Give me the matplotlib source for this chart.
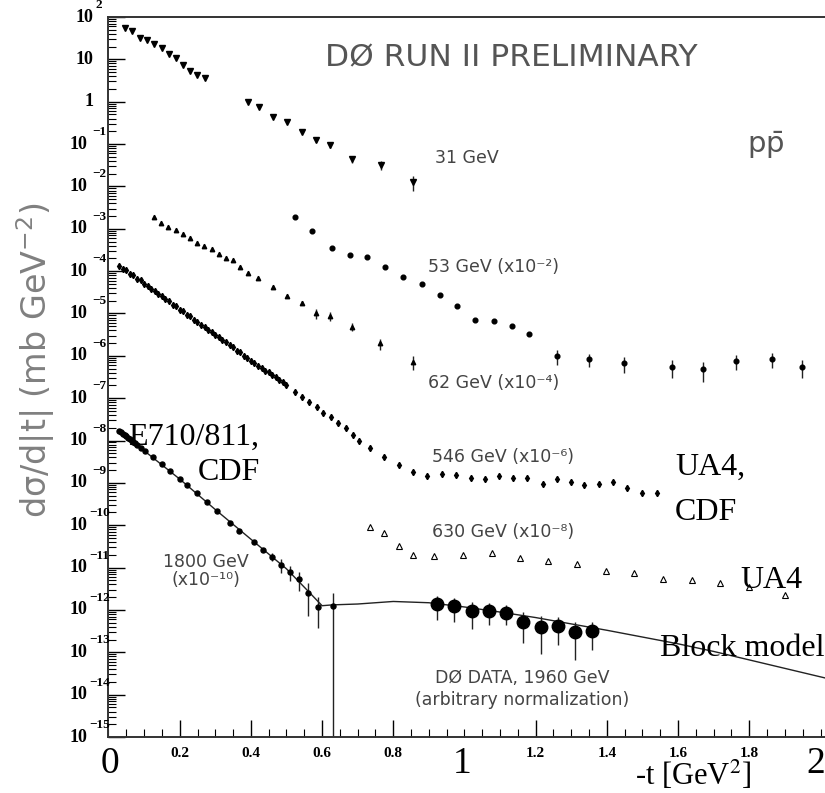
import numpy as np
import matplotlib
matplotlib.use('Agg')
import matplotlib.pyplot as plt
import matplotlib.transforms as mtransforms
from matplotlib.ticker import MultipleLocator, LogLocator, NullFormatter

# values as log10(dsigma/dt), relative errors where bars are visible
t31 = [0.046, 0.067, 0.089, 0.109, 0.129, 0.149, 0.170, 0.190, 0.210, 0.229, 0.249, 0.271,
       0.391, 0.423, 0.462, 0.502, 0.543, 0.583, 0.622, 0.685, 0.765, 0.854]
lg31 = [1.733, 1.669, 1.497, 1.449, 1.370, 1.260, 1.119, 1.024, 0.867, 0.725, 0.630, 0.567,
        0.000, -0.125, -0.354, -0.487, -0.708, -0.904, -1.022, -1.353, -1.495, -1.889]
err31 = [0] * 12 + [0.03, 0.04, 0.05, 0.06, 0.08, 0.12, 0.15, 0.2, 0.25, 0.4]

t53 = [0.524, 0.572, 0.629, 0.678, 0.727, 0.777, 0.828, 0.881, 0.931, 0.980, 1.029, 1.082,
       1.133, 1.180, 1.259, 1.351, 1.449, 1.582, 1.671, 1.763, 1.865, 1.947]
lg53 = [-2.722, -3.053, -3.462, -3.620, -3.674, -3.896, -4.132, -4.305, -4.557, -4.824, -5.155,
        -5.167, -5.296, -5.485, -6.005, -6.083, -6.177, -6.257, -6.319, -6.116, -6.083, -6.257]
err53 = [0] * 9 + [0.05, 0.06, 0.06, 0.08, 0.1, 0.38, 0.35, 0.4, 0.45, 0.5, 0.4, 0.38, 0.45]

t62 = [0.128, 0.147, 0.168, 0.189, 0.208, 0.229, 0.249, 0.269, 0.290, 0.310, 0.330, 0.351,
       0.369, 0.393, 0.421, 0.461, 0.502, 0.543, 0.583, 0.622, 0.685, 0.763, 0.856]
lg62 = [-2.715, -2.857, -2.951, -3.029, -3.124, -3.226, -3.329, -3.407, -3.485, -3.603, -3.698,
        -3.738, -3.896, -4.052, -4.156, -4.368, -4.581, -4.746, -4.997, -5.060, -5.313, -5.705, -6.139]
err62 = [0] * 16 + [0.06, 0.12, 0.25, 0.25, 0.2, 0.3, 0.36]

t546 = [0.03, 0.04, 0.05, 0.06, 0.07, 0.08, 0.09, 0.10, 0.11, 0.12, 0.13, 0.14, 0.15, 0.16,
        0.17, 0.18, 0.19, 0.20, 0.21, 0.22, 0.23, 0.24, 0.25, 0.26, 0.27, 0.28, 0.29, 0.30,
        0.31, 0.32, 0.33, 0.34, 0.35, 0.36, 0.37, 0.38, 0.39, 0.40, 0.41, 0.42, 0.43, 0.44,
        0.45, 0.46, 0.47, 0.48, 0.49, 0.50,
        0.524, 0.543, 0.564, 0.585, 0.603, 0.625, 0.646, 0.666, 0.686, 0.704, 0.735, 0.775,
        0.816, 0.856, 0.896, 0.938, 0.976, 1.017, 1.058, 1.098, 1.137, 1.176, 1.220, 1.259,
        1.299, 1.337, 1.378, 1.416, 1.457, 1.498, 1.540]
lg546 = [-3.87, -3.94, -3.98, -4.06, -4.10, -4.18, -4.22, -4.30, -4.35, -4.42, -4.47, -4.55,
         -4.59, -4.67, -4.71, -4.79, -4.83, -4.91, -4.95, -5.03, -5.07, -5.15, -5.19, -5.27,
         -5.31, -5.39, -5.43, -5.51, -5.55, -5.63, -5.67, -5.75, -5.79, -5.88, -5.92, -6.00,
         -6.04, -6.12, -6.16, -6.24, -6.28, -6.36, -6.39, -6.46, -6.50, -6.58, -6.62, -6.70,
         -6.848, -6.966, -7.084, -7.202, -7.344, -7.452, -7.594, -7.712, -7.870, -8.005,
         -8.184, -8.397, -8.578, -8.737, -8.838, -8.791, -8.815, -8.893, -8.916, -8.838,
         -8.893, -8.893, -9.027, -8.916, -8.973, -9.050, -9.027, -8.973, -9.129, -9.233, -9.247]

t630 = [0.735, 0.774, 0.816, 0.854, 0.915, 0.997, 1.076, 1.156, 1.235, 1.315, 1.397, 1.477,
        1.558, 1.638, 1.718, 1.800, 1.900]
lg630 = [-10.035, -10.177, -10.491, -10.704, -10.727, -10.704, -10.664, -10.782, -10.838,
         -10.916, -11.074, -11.136, -11.277, -11.294, -11.372, -11.45, -11.648]

t1800 = [0.030, 0.035, 0.040, 0.045, 0.050, 0.055, 0.060, 0.065, 0.070, 0.075, 0.080, 0.090,
         0.103, 0.126, 0.149, 0.173, 0.201, 0.221, 0.248, 0.276, 0.304, 0.341, 0.367, 0.410,
         0.435, 0.458, 0.484, 0.510, 0.534, 0.561, 0.589, 0.631]
lg1800 = [-7.77, -7.80, -7.84, -7.87, -7.90, -7.94, -7.97, -8.00, -8.04, -8.07, -8.11, -8.17,
          -8.25, -8.40, -8.56, -8.73, -8.92, -9.06, -9.25, -9.45, -9.66, -9.94, -10.13, -10.40,
          -10.58, -10.74, -10.93, -11.10, -11.28, -11.60, -11.92, -11.90]
err1800 = [0] * 25 + [0.2, 0.35, 0.39, 0.47, 0.71, 0.69, 0.9999]

t_d0 = [0.922, 0.971, 1.020, 1.069, 1.117, 1.165, 1.214, 1.262, 1.309, 1.357]
lg_d0 = [-11.861, -11.908, -12.019, -12.019, -12.066, -12.278, -12.396, -12.380, -12.529, -12.498]
err_d0 = [0.58, 0.57, 0.62, 0.54, 0.49, 0.69, 0.77, 0.65, 0.78, 0.65]

t_block = [0.028, 0.10, 0.20, 0.30, 0.40, 0.50, 0.56, 0.60, 0.63, 0.70, 0.80, 0.90, 1.0, 1.1,
           1.2, 1.3, 1.4, 1.5, 1.6, 1.7, 1.8, 1.9, 2.0, 2.05]
lg_block = [-7.75, -8.24, -8.91, -9.63, -10.33, -11.03, -11.55, -11.90, -11.88, -11.86, -11.80,
            -11.83, -11.93, -12.05, -12.18, -12.33, -12.48, -12.64, -12.80, -12.98, -13.18,
            -13.38, -13.58, -13.68]

xticks = [0.2, 0.4, 0.6, 0.8, 1.2, 1.4, 1.6, 1.8]
decades = list(range(-15, 3))

fig = plt.figure(figsize=(8.25, 7.93), dpi=100)
ax = fig.add_axes([108.5 / 825, 56 / 793, 716.5 / 825, 720 / 793])


def draw(t, lg, err, **kw):
    y = 10.0 ** np.array(lg)
    e = y * np.array(err)
    ax.errorbar(t, y, yerr=[e, e], color='k', ecolor='#222222', elinewidth=1.0,
                capsize=0, linestyle='none', **kw)


draw(t31, lg31, err31, marker='v', ms=4.0)
draw(t53, lg53, err53, marker='o', ms=3.4)
draw(t62, lg62, err62, marker='^', ms=3.2)
draw(t546, lg546, [0] * len(t546), marker='d', ms=3.2)
draw(t630, lg630, [0] * len(t630), marker='^', ms=4.0, mfc='white', mew=0.8)
ax.plot(t_block, 10.0 ** np.array(lg_block), color='#222222', lw=1.0)
draw(t1800, lg1800, err1800, marker='o', ms=3.6)
draw(t_d0, lg_d0, err_d0, marker='o', ms=9)

ax.set_yscale('log')
ax.set_ylim(1e-15, 1e2)
ax.set_xlim(0, 716.5 / 356)
ax.spines['right'].set_visible(False)
for s in ['left', 'top', 'bottom']:
    ax.spines[s].set_linewidth(1.4)
    ax.spines[s].set_color('#333333')

ax.set_xticks(xticks)
ax.set_xticklabels(['%.1f' % v for v in xticks], family='Liberation Serif',
                   fontweight='bold', fontsize=11)
ax.xaxis.set_minor_locator(MultipleLocator(0.05))
ax.yaxis.set_major_locator(LogLocator(base=10, numticks=40))
ax.yaxis.set_minor_locator(LogLocator(base=10, subs=np.arange(2, 10), numticks=40))
ax.yaxis.set_minor_formatter(NullFormatter())
ax.tick_params(which='both', direction='in', top=False, right=False, labelleft=False)
ax.tick_params(which='major', length=12, width=1.0, pad=7)
ax.tick_params(which='minor', length=6, width=0.8)

# ROOT-style "10" + exponent labels on the y axis
trans = mtransforms.blended_transform_factory(ax.transAxes, ax.transData)
up = mtransforms.ScaledTranslation(0, 12 / 100, fig.dpi_scale_trans)
for n in decades:
    y = 10.0 ** n
    base = '1' if n == 0 else '10'
    xr = -0.029 if n < 0 else -0.021
    ax.text(xr, y, base, transform=trans, ha='right', va='center', family='Liberation Serif',
            fontweight='bold', fontsize=13)
    if n not in (0, 1):
        ax.text(-0.013, y, str(n).replace('-', '\u2212'), transform=trans + up, ha='center',
                va='center', family='Liberation Serif', fontweight='bold', fontsize=9.5)

serif = dict(family='Liberation Serif', color='black', fontsize=23)
gray = dict(family='DejaVu Sans', color='#444444', fontsize=12.5)

fig.text(36 / 825, 1 - 360 / 793, 'd\u03c3/d|t| (mb GeV$^{-2}$)', rotation=90, ha='center',
         va='center', color='#808080', fontsize=24, family='DejaVu Sans')
fig.text(325 / 825, 1 - 58 / 793, 'D\u00d8 RUN II PRELIMINARY', ha='left', va='center',
         color='#555555', fontsize=22.5, family='DejaVu Sans')
fig.text(766 / 825, 1 - 145 / 793, r'p$\bar{\mathrm{p}}$', ha='center', va='center',
         color='#555555', fontsize=21, family='DejaVu Sans')

fig.text(435 / 825, 1 - 158 / 793, '31 GeV', ha='left', va='center', **gray)
fig.text(428 / 825, 1 - 267 / 793, '53 GeV (x10\u207b\u00b2)', ha='left', va='center', **gray)
fig.text(428 / 825, 1 - 383 / 793, '62 GeV (x10\u207b\u2074)', ha='left', va='center', **gray)
fig.text(432 / 825, 1 - 457 / 793, '546 GeV (x10\u207b\u2076)', ha='left', va='center', **gray)
fig.text(432 / 825, 1 - 532 / 793, '630 GeV (x10\u207b\u2078)', ha='left', va='center', **gray)
fig.text(206 / 825, 1 - 571 / 793, '1800 GeV\n(x10\u207b\u00b9\u2070)', ha='center',
         va='center', linespacing=0.95, **gray)
fig.text(522 / 825, 1 - 689 / 793, 'D\u00d8 DATA, 1960 GeV\n(arbitrary normalization)',
         ha='center', va='center', linespacing=1.3, **gray)

fig.text(128 / 825, 1 - 437 / 793, 'E710/811,', ha='left', va='center', **serif)
fig.text(198 / 825, 1 - 473 / 793, 'CDF', ha='left', va='center', **serif)
fig.text(675 / 825, 1 - 467 / 793, 'UA4,', ha='left', va='center', **serif)
fig.text(675 / 825, 1 - 513 / 793, 'CDF', ha='left', va='center', **serif)
fig.text(740 / 825, 1 - 580 / 793, 'UA4', ha='left', va='center', **serif)
fig.text(660 / 825, 1 - 648 / 793, 'Block model', ha='left', va='center', **serif)

big = dict(family='Liberation Serif', color='black', fontsize=27, ha='center', va='center')
fig.text(110 / 825, 1 - 764 / 793, '0', **big)
fig.text(462 / 825, 1 - 764 / 793, '1', **big)
fig.text(816 / 825, 1 - 764 / 793, '2', **big)
fig.text(693 / 825, 1 - 775 / 793, '-t [GeV$^{2}$]', ha='center', va='center',
         family='Liberation Serif', fontsize=22, math_fontfamily='stix')

fig.savefig('out.png', dpi=100)
